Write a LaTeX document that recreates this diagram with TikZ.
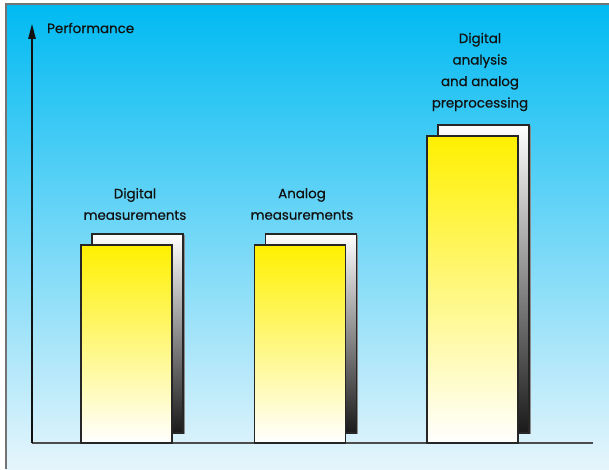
\documentclass[tikz,border=0pt]{standalone}
\usepackage{fontspec}
\setmainfont[FakeBold=0.6]{Poppins}
\usetikzlibrary{arrows.meta,shadows}
\definecolor{bgtop}{HTML}{00BAF2}
\definecolor{bgbot}{HTML}{E6F5FC}
\definecolor{barylw}{HTML}{FFF000}
\definecolor{barmid}{HTML}{FFF590}
\definecolor{inkc}{HTML}{111111}
\tikzset{
  backbar/.style={draw=black!85, line width=1.1pt, top color=white, bottom color=black!90,
    minimum width=91pt, inner sep=0pt, outer sep=0pt,
    drop shadow={shadow xshift=1.6pt, shadow yshift=-1pt, fill=black!45, opacity=1}},
  frontbar/.style={draw=black!85, line width=1.1pt, top color=barylw, middle color=barmid, bottom color=white,
    minimum width=91pt, inner sep=0pt, outer sep=0pt},
  lbl/.style={align=center, text=inkc, font=\fontsize{13.4}{21.5}\selectfont, inner sep=0pt},
  axisline/.style={line width=1.3pt}
}
\begin{document}
\begin{tikzpicture}[x=1pt,y=1pt]
\useasboundingbox (0,0) rectangle (609,469);
% background and frame
\shade[top color=bgtop, bottom color=bgbot] (6,0) rectangle (609,465);
\draw[black!55, line width=1.6pt] (6,0) -- (6,465) -- (609,465);
% axes anchor points
\coordinate (o) at (32,26);
\coordinate (ytop) at (32,445);
\coordinate (xend) at (593,26);
\draw[axisline, black!70] (o) -- (xend);
% bars
\node[backbar, minimum height=199pt] (b1) at (137.5,135.5) {};
\node[frontbar, minimum height=198pt] (f1) at (126.5,125) {};
\node[backbar, minimum height=199pt] (b2) at (311,135.5) {};
\node[frontbar, minimum height=198pt] (f2) at (300,125) {};
\node[backbar, minimum height=308pt] (b3) at (483.5,190) {};
\node[frontbar, minimum height=307pt] (f3) at (472.5,179.5) {};
% y axis
\draw[axisline, inkc, -{Triangle[length=15pt,width=7.5pt]}] (o) -- (ytop);
% labels
\node[lbl, anchor=west] (perf) at (47,441) {Performance};
\node[lbl] (l1) at (135,265) {Digital\\measurements};
\node[lbl] (l2) at (302,265) {Analog\\measurements};
\node[lbl] (l3) at (480,397) {Digital\\analysis\\and analog\\preprocessing};
\end{tikzpicture}
\end{document}
